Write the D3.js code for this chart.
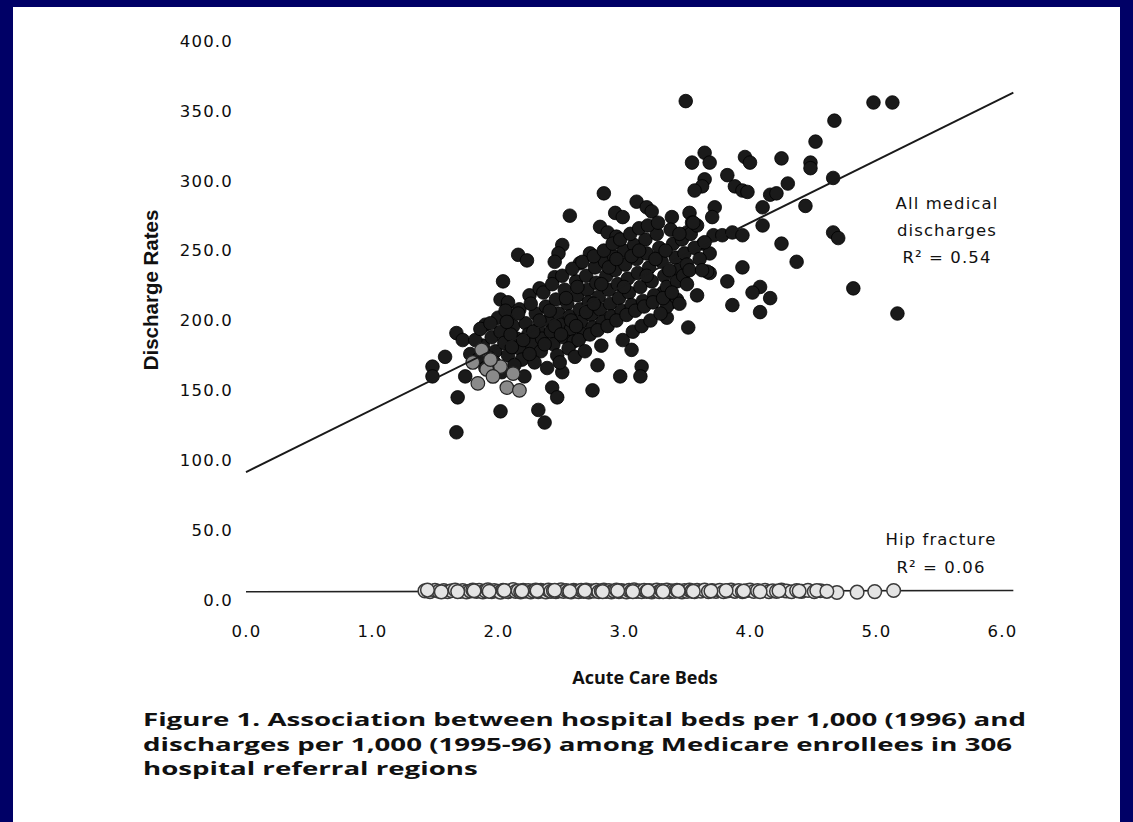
<!DOCTYPE html>
<html>
<head>
<meta charset="utf-8">
<script src="https://cdn.jsdelivr.net/npm/d3@7"></script>
<style>
  body { margin: 0; background: #000066; }
  svg { display: block; }
</style>
</head>
<body>
<svg id="chart" width="1133" height="822"></svg>
<script>
// Axis ticks
const xTicks = [0, 1, 2, 3, 4, 5, 6];
const yTicks = [0, 50, 100, 150, 200, 250, 300, 350, 400];

// All medical discharges per 1,000 vs acute care beds per 1,000 (one point per referral region)
const medical = [
  [3.49,357],[4.98,356],[5.13,356],[4.67,343],[4.52,328],[3.64,320],[3.68,313],[3.54,313],
  [3.96,317],[4.00,313],[4.25,316],[4.48,313],[4.48,309],[3.82,304],[3.64,301],[3.62,296],
  [3.56,293],[3.88,296],[3.94,293],[3.98,292],[4.30,298],[4.16,290],[4.21,291],[4.10,281],
  [4.66,302],[4.44,282],[2.84,291],[2.57,275],[2.93,277],[2.99,274],[3.10,285],[3.18,281],
  [3.22,278],[3.38,274],[3.52,277],[3.54,270],[3.72,281],[3.70,274],[4.10,268],[3.71,261],
  [3.78,261],[3.86,263],[3.94,261],[3.63,255],[3.68,248],[4.25,255],[4.66,263],[4.70,259],
  [4.37,242],[3.94,238],[3.68,234],[3.82,228],[4.08,224],[4.02,220],[4.16,216],[3.86,211],
  [4.08,206],[4.82,223],[5.17,205],[3.51,195],[3.58,218],[3.33,217],[3.37,213],[3.42,215],
  [3.34,202],[3.06,179],[3.66,235],[3.50,263],[2.81,267],[2.87,263],[2.94,260],[2.51,254],
  [2.48,248],[2.45,242],[2.16,247],[2.23,243],[2.04,228],[2.45,231],[2.65,241],[2.73,248],
  [2.02,215],[2.08,213],[2.25,218],[2.33,223],[2.17,208],[2.07,200],[1.90,197],[1.67,191],
  [1.72,186],[1.58,174],[1.48,167],[1.48,160],[1.74,160],[1.68,145],[1.67,120],[2.02,135],
  [2.32,136],[2.37,127],[2.43,152],[2.47,145],[2.51,163],[2.79,168],[2.75,150],[2.97,160],
  [3.14,167],[3.13,160],[3.31,220],[3.34,210],
  [1.88,182],[1.95,188],[1.98,178],[2.02,192],[2.05,184],[2.08,175],[2.12,196],[2.15,187],
  [2.17,180],[2.22,198],[2.24,190],[2.27,183],[2.30,205],[2.32,194],[2.35,187],[2.38,210],
  [2.40,200],[2.42,192],[2.44,183],[2.46,215],[2.48,205],[2.50,197],[2.52,188],[2.53,222],
  [2.55,212],[2.57,203],[2.58,194],[2.60,185],[2.62,228],[2.63,218],[2.65,208],[2.66,199],
  [2.68,190],[2.70,232],[2.71,222],[2.72,213],[2.74,204],[2.75,195],[2.77,238],[2.78,227],
  [2.80,217],[2.81,208],[2.83,199],[2.85,242],[2.86,232],[2.88,222],[2.89,212],[2.90,203],
  [2.92,246],[2.93,236],[2.95,226],[2.96,216],[2.98,207],[3.00,250],[3.01,240],[3.03,230],
  [3.04,220],[3.06,211],[3.08,254],[3.10,244],[3.11,234],[3.13,224],[3.15,214],[3.17,258],
  [3.18,248],[3.20,238],[3.22,228],[3.24,218],[3.26,262],[3.28,252],[3.30,242],[3.32,232],
  [3.34,224],[3.37,265],[3.39,255],[3.41,245],[3.43,236],[3.46,258],[3.48,248],[3.50,240],
  [3.53,262],[3.56,252],[3.60,244],[3.64,256],
  [2.00,202],[2.06,207],[2.10,190],[2.19,172],[2.26,212],[2.34,178],[2.36,220],[2.43,226],
  [2.47,175],[2.51,232],[2.56,180],[2.59,237],[2.64,186],[2.67,242],[2.73,190],[2.76,246],
  [2.79,193],[2.84,250],[2.87,196],[2.91,255],[2.94,200],[2.97,258],[3.02,204],[3.05,262],
  [3.09,207],[3.12,266],[3.16,210],[3.19,268],[3.23,213],[3.27,270],[3.31,216],[3.36,236],
  [3.42,228],[3.47,232],[3.52,236],[3.58,268],[1.92,174],[2.13,168],[2.21,160],[2.29,170],
  [2.39,166],[2.49,170],[2.61,174],[2.69,178],[2.82,182],[2.99,186],[3.07,192],[3.14,196],
  [3.21,200],[3.29,205],
  [1.78,176],[1.82,186],[1.84,172],[1.86,194],[1.90,166],[1.94,198],[1.97,170],[2.03,163],
  [2.07,199],[2.11,181],[2.16,205],[2.20,186],[2.25,176],[2.28,192],[2.33,200],[2.37,183],
  [2.41,207],[2.45,196],[2.54,216],[2.58,200],[2.63,224],[2.70,206],[2.76,212],[2.82,226],
  [2.88,238],[2.94,244],[3.00,224],[3.06,246],[3.12,250],[3.18,232],[3.25,244],[3.33,250],
  [3.38,220],[3.44,262],[3.55,270],[3.62,236],[3.44,212],[3.50,226],[2.50,190],[2.62,196]
];

// Lighter-printed regions in the low-bed cluster
const medicalShaded = [
  [1.84,155],[1.91,165],[2.02,167],[2.12,162],[1.96,160],[2.07,152],[2.17,150],
  [1.80,170],[1.94,172],[1.87,179]
];

// Hip fracture discharges per 1,000
const hip = [
  [1.42,6.5],[1.46,6.0],[1.50,7.0],[1.53,6.3],[1.57,6.8],[1.60,5.9],[1.63,6.6],[1.66,7.2],
  [1.70,6.1],[1.72,6.7],[1.75,5.8],[1.78,6.4],[1.80,7.1],[1.83,6.2],[1.85,6.9],[1.88,5.7],
  [1.90,6.5],[1.92,7.3],[1.95,6.0],[1.97,6.8],[2.00,6.3],[2.02,5.6],[2.04,7.0],[2.06,6.4],
  [2.08,5.9],[2.10,6.7],[2.12,7.4],[2.14,6.1],[2.16,6.6],[2.18,5.8],[2.20,7.0],[2.22,6.3],
  [2.24,6.8],[2.26,5.7],[2.28,6.5],[2.30,7.2],[2.32,6.0],[2.34,6.9],[2.36,6.4],[2.38,5.8],
  [2.40,7.1],[2.42,6.2],[2.44,6.7],[2.46,5.9],[2.48,6.5],[2.50,7.3],[2.52,6.1],[2.54,6.8],
  [2.56,6.3],[2.58,5.7],[2.60,7.0],[2.62,6.4],[2.64,6.0],[2.66,6.9],[2.68,6.2],[2.70,7.2],
  [2.72,5.8],[2.74,6.6],[2.76,6.3],[2.78,7.0],[2.80,5.9],[2.82,6.5],[2.84,7.1],[2.86,6.1],
  [2.88,6.7],[2.90,5.8],[2.92,6.4],[2.94,7.2],[2.96,6.0],[2.98,6.8],[3.00,6.3],[3.02,5.7],
  [3.04,6.9],[3.06,6.4],[3.08,7.3],[3.10,6.1],[3.12,6.6],[3.14,5.9],[3.16,7.0],[3.18,6.2],
  [3.20,6.8],[3.22,5.8],[3.24,6.5],[3.26,7.1],[3.28,6.0],[3.30,6.7],[3.32,6.3],[3.34,7.2],
  [3.36,5.9],[3.38,6.6],[3.40,6.2],[3.42,7.0],[3.44,6.4],[3.46,5.8],[3.48,6.8],[3.50,6.1],
  [3.52,7.1],[3.54,6.5],[3.56,6.0],[3.58,6.9],[3.61,6.3],[3.64,7.2],[3.67,6.0],[3.70,6.7],
  [3.73,6.2],[3.76,7.0],[3.79,5.9],[3.82,6.5],[3.85,7.1],[3.88,6.2],[3.91,6.8],[3.94,6.0],
  [3.97,6.6],[4.00,7.2],[4.03,6.1],[4.06,6.7],[4.09,6.3],[4.12,7.0],[4.15,5.9],[4.18,6.6],
  [4.21,6.2],[4.25,7.1],[4.29,6.4],[4.33,5.9],[4.37,6.8],[4.41,6.2],[4.46,6.9],[4.51,6.0],
  [4.56,6.6],[4.69,5.4],[4.85,5.6],[4.99,6.0],[5.14,6.8],
  [1.44,7.1],[1.55,5.8],[1.68,6.0],[1.81,6.6],[1.93,6.2],[2.05,6.8],[2.19,6.4],[2.31,6.6],
  [2.45,7.0],[2.57,6.2],[2.69,6.6],[2.83,6.0],[2.95,6.6],[3.07,6.0],[3.19,6.6],[3.31,6.0],
  [3.43,6.6],[3.55,6.2],[3.69,6.4],[3.81,6.8],[3.95,6.4],[4.08,6.0],[4.23,6.6],[4.39,6.4],
  [4.53,6.8],[4.61,6.2]
];

// Least-squares fits: [intercept, slope], drawn over fitRange
const medicalFit = [91.5, 44.6];
const hipFit = [5.9, 0.15];
const fitRange = [0, 6.09];

// Annotation and caption text
const medicalLabel = ["All medical", "discharges", "R² = 0.54"];
const hipLabel = ["Hip fracture", "R² = 0.06"];
const caption = [
  "Figure 1. Association between hospital beds per 1,000 (1996) and",
  "discharges per 1,000 (1995-96) among Medicare enrollees in 306",
  "hospital referral regions"
];

const svg = d3.select("#chart");

// white page area inside the navy frame
svg.append("rect").attr("x", 13).attr("y", 7).attr("width", 1107).attr("height", 815).attr("fill", "#ffffff");

const x = d3.scaleLinear().domain([0, 6]).range([246, 1002]);
const y = d3.scaleLinear().domain([0, 400]).range([600, 41]);

const tickFont = "'DejaVu Sans', sans-serif";

// Y axis labels only (no axis line, no tick marks)
const yAxis = svg.append("g").attr("transform", `translate(${x(0)},0)`)
  .call(d3.axisLeft(y).tickValues(yTicks).tickSize(0).tickPadding(13).tickFormat(d3.format(".1f")));
yAxis.select(".domain").remove();
yAxis.selectAll("text")
  .attr("font-family", tickFont).attr("font-size", 16.5).attr("letter-spacing", 1.2).attr("fill", "#0d0d0d");

// X axis labels only
const xAxis = svg.append("g").attr("transform", `translate(0,${y(0)})`)
  .call(d3.axisBottom(x).tickValues(xTicks).tickSize(0).tickPadding(25).tickFormat(d3.format(".1f")));
xAxis.select(".domain").remove();
xAxis.selectAll("text")
  .attr("font-family", tickFont).attr("font-size", 16.5).attr("letter-spacing", 1.2).attr("fill", "#0d0d0d");

// Axis titles
svg.append("text")
  .attr("transform", `translate(158,290) rotate(-90)`)
  .attr("text-anchor", "middle")
  .attr("font-family", "'Liberation Sans', Arial, sans-serif").attr("font-weight", "bold")
  .attr("font-size", 20.5).attr("fill", "#111")
  .text("Discharge Rates");

svg.append("text")
  .attr("x", 645).attr("y", 684)
  .attr("text-anchor", "middle")
  .attr("font-family", "'Open Sans', sans-serif").attr("font-weight", 700)
  .attr("font-size", 18).attr("fill", "#111")
  .text("Acute Care Beds");

const line = d3.line().x(d => x(d[0])).y(d => y(d[1]));
const fitPoints = f => fitRange.map(v => [v, f[0] + f[1] * v]);

// Hip fracture fit line, then its open markers
svg.append("path").datum(fitPoints(hipFit))
  .attr("d", line).attr("fill", "none").attr("stroke", "#222").attr("stroke-width", 1.7);

svg.append("g").selectAll("circle").data(hip).join("circle")
  .attr("cx", d => x(d[0])).attr("cy", d => y(d[1])).attr("r", 6.8)
  .attr("fill", "#e4e4e4").attr("stroke", "#3a3a3a").attr("stroke-width", 1.5);

// All medical discharge markers
svg.append("g").selectAll("circle").data(medical).join("circle")
  .attr("cx", d => x(d[0])).attr("cy", d => y(d[1])).attr("r", 6.8)
  .attr("fill", "#1a1a1a").attr("stroke", "#000").attr("stroke-width", 0.8);

svg.append("g").selectAll("circle").data(medicalShaded).join("circle")
  .attr("cx", d => x(d[0])).attr("cy", d => y(d[1])).attr("r", 6.8)
  .attr("fill", "#8a8a8a").attr("stroke", "#222").attr("stroke-width", 1.2);

// All medical fit line
svg.append("path").datum(fitPoints(medicalFit))
  .attr("d", line).attr("fill", "none").attr("stroke", "#1a1a1a").attr("stroke-width", 1.9);

// Series annotations
const annFont = "'DejaVu Sans', sans-serif";
svg.append("g").selectAll("text").data(medicalLabel).join("text")
  .attr("x", 947).attr("y", (d, i) => 209 + i * 27)
  .attr("text-anchor", "middle")
  .attr("font-family", annFont).attr("font-size", 16.5).attr("letter-spacing", 1.1).attr("fill", "#111")
  .text(d => d);

svg.append("g").selectAll("text").data(hipLabel).join("text")
  .attr("x", 941).attr("y", (d, i) => 545 + i * 28)
  .attr("text-anchor", "middle")
  .attr("font-family", annFont).attr("font-size", 16.5).attr("letter-spacing", 1.1).attr("fill", "#111")
  .text(d => d);

// Figure caption, set in a wide bold face
svg.append("g").selectAll("text").data(caption).join("text")
  .attr("transform", (d, i) => `translate(143,${726 + i * 24.5}) scale(1.555,1)`)
  .attr("font-family", "'Open Sans', sans-serif").attr("font-weight", 700)
  .attr("font-size", 17.8).attr("fill", "#111")
  .text(d => d);
</script>
</body>
</html>
